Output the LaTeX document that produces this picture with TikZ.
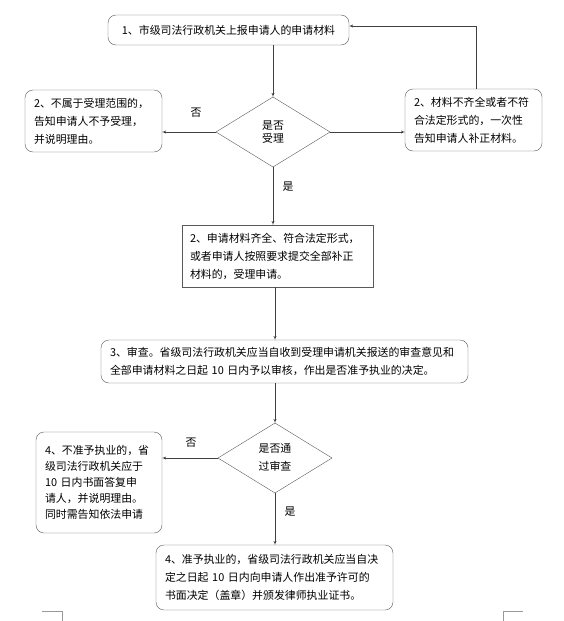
\documentclass[tikz,border=0pt]{standalone}
\usepackage{fontspec}
\setmainfont{Noto Sans CJK SC}
\usetikzlibrary{shapes.geometric,arrows,calc}

\begin{document}
\begin{tikzpicture}[x=1pt, y=-1pt, outer sep=0pt, >=latex',
  font=\fontsize{10.9}{18}\selectfont,
  box/.style={draw=black!65, rounded corners=8pt, inner xsep=9pt, inner ysep=0pt},
  plainbox/.style={draw=black!65, inner xsep=8pt, inner ysep=0pt},
  decide/.style={draw=black!65, diamond, inner sep=0pt, minimum width=114pt, minimum height=70pt, align=center},
  link/.style={->, draw=black!75}]
\useasboundingbox (0,0) rectangle (564,621);

\node[box, minimum width=241pt, minimum height=30pt] at (228.5, 30) (REPORT) {1、市级司法行政机关上报申请人的申请材料};
\node[decide, font=\fontsize{10.9}{13}\selectfont] at (273, 132) (CHECK_ACC) {是否\\受理};
\node[box, minimum height=62pt, text width=119pt, align=left] at (93.5, 121) (REFUSE) {2、不属于受理范围的，\\告知申请人不予受理，\\并说明理由。};
\node[box, minimum height=62pt, text width=119pt, align=left] at (473.5, 120) (SUPPLY) {2、材料不齐全或者不符\\合法定形式的，一次性\\告知申请人补正材料。};
\node[plainbox, minimum height=62pt, text width=175pt, align=left] at (277.5, 256) (ACCEPT) {2、申请材料齐全、符合法定形式，\\或者申请人按照要求提交全部补正\\材料的，受理申请。};
\node[box, minimum height=43pt, text width=349pt, align=left] at (284.5, 361.5) (REVIEW) {3、审查。省级司法行政机关应当自收到受理申请机关报送的审查意见和\\全部申请材料之日起 10 日内予以审核，作出是否准予执业的决定。};
\node[decide] at (275, 458) (CHECK_PASS) {是否通\\过审查};
\node[box, minimum height=101pt, text width=108pt, align=left, font=\fontsize{10.9}{16}\selectfont] at (99, 482.5) (DENY) {4、不准予执业的，省\\级司法行政机关应于\\10 日内书面答复申\\请人，并说明理由。\\同时需告知依法申请};
\node[box, minimum height=65pt, text width=219pt, align=left] at (274.5, 577.5) (GRANT) {4、准予执业的，省级司法行政机关应当自决\\定之日起 10 日内向申请人作出准予许可的\\书面决定（盖章）并颁发律师执业证书。};

\node at (196, 113) (NO_ACC) {否};
\node at (288, 187) (YES_ACC) {是};
\node at (191, 443) (NO_PASS) {否};
\node at (290, 512) (YES_PASS) {是};
\coordinate (BACK) at (476, 26);

    \draw [link] (REPORT.south -| CHECK_ACC.north) -- (CHECK_ACC.north);
    \draw [link] (CHECK_ACC.west) -- (CHECK_ACC.west -| REFUSE.east);
    \draw [link] (CHECK_ACC.east) -- (CHECK_ACC.east -| SUPPLY.west);
    \draw [link] (SUPPLY.north -| BACK) -- (BACK) -- (BACK -| REPORT.east);
    \draw [link] (CHECK_ACC.south) -- (CHECK_ACC.south |- ACCEPT.north);
    \draw [link] (ACCEPT.south -| CHECK_PASS.north) -- (REVIEW.north -| CHECK_PASS.north);
    \draw [link] (REVIEW.south -| CHECK_PASS.north) -- (CHECK_PASS.north);
    \draw [link] (CHECK_PASS.west) -- (CHECK_PASS.west -| DENY.east);
    \draw [link] (CHECK_PASS.south) -- (CHECK_PASS.south |- GRANT.north);

% page corner marks
\draw [black!40] (42, 611) -- (62, 611) -- (62, 621);
\draw [black!40] (503, 621) -- (503, 611) -- (523, 611);
\end{tikzpicture}
\end{document}
